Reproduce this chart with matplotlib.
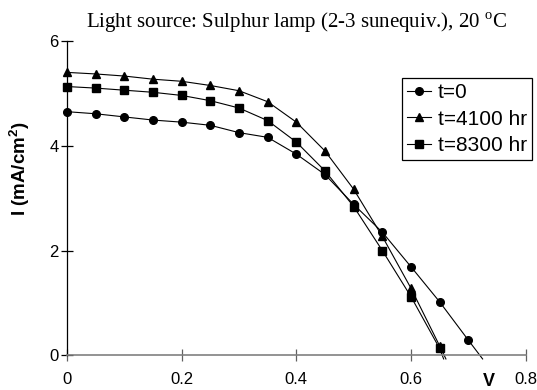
import matplotlib.pyplot as plt

plt.rcParams['font.family'] = ['Liberation Sans', 'DejaVu Sans']
plt.rcParams['mathtext.fontset'] = 'custom'
plt.rcParams['mathtext.rm'] = 'Liberation Serif'
plt.rcParams['mathtext.bf'] = 'Liberation Sans:bold'

# I-V curves, voltage in V, current density in mA/cm2
voltage = [0.0, 0.05, 0.1, 0.15, 0.2, 0.25, 0.3, 0.35, 0.4, 0.45, 0.5, 0.55, 0.6, 0.65, 0.7]
i_t0 = [4.65, 4.61, 4.55, 4.49, 4.45, 4.39, 4.25, 4.16, 3.84, 3.45, 2.88, 2.35, 1.69, 1.02, 0.29]
i_t4100 = [5.40, 5.37, 5.33, 5.27, 5.23, 5.15, 5.05, 4.84, 4.45, 3.90, 3.17, 2.27, 1.28, 0.18]
i_t8300 = [5.13, 5.10, 5.06, 5.02, 4.96, 4.86, 4.72, 4.48, 4.07, 3.52, 2.84, 2.00, 1.12, 0.13]
# where each curve runs out just under the axis (no marker drawn)
end_v = [0.725, 0.661, 0.657]
end_i = [-0.07, -0.07, -0.07]

labels = ['t=0', 't=4100 hr', 't=8300 hr']
markers = ['o', '^', 's']
sizes = [5.5, 6, 5.5]

fig = plt.figure(figsize=(5.37, 3.9), dpi=100)
ax = fig.add_axes([0.1248, 0.089, 0.854, 0.806])

for k, ys in enumerate([i_t0, i_t4100, i_t8300]):
    xs = voltage[:len(ys)] + [end_v[k]]
    yy = ys + [end_i[k]]
    ax.plot(xs, yy, color='black', lw=0.8, marker=markers[k], ms=sizes[k],
            markevery=list(range(len(ys))), label=labels[k], clip_on=False)

ax.set_xlim(0, 0.8)
ax.set_ylim(0, 6)
ax.set_xticks([0, 0.2, 0.4, 0.6, 0.8])
ax.set_xticklabels(['0', '0.2', '0.4', '0.6', '0.8'])
ax.set_yticks([0, 2, 4, 6])

for s in ['top', 'right']:
    ax.spines[s].set_visible(False)
ax.spines['left'].set_color('black')
ax.spines['bottom'].set_color('#808080')
ax.spines['left'].set_linewidth(0.9)
ax.spines['bottom'].set_linewidth(1.2)
ax.tick_params(axis='both', direction='inout', length=8, width=0.9, labelsize=12)
ax.tick_params(axis='x', color='#606060', pad=8)
ax.tick_params(axis='y', pad=2)

ax.set_ylabel('I (mA/cm$^{\\bf 2}$)', fontsize=13.5, fontweight='bold')
ax.yaxis.set_label_coords(-0.077, 0.593)
ax.text(0.919, -0.082, 'V', transform=ax.transAxes, fontsize=13, fontweight='bold',
        ha='center', va='center')

ax.set_title('Light source: Sulphur lamp (2-3 sunequiv.), 20 $^{\\rm o}$C',
             family='Liberation Serif', fontsize=15, pad=9)

leg = ax.legend(loc='upper left', bbox_to_anchor=(0.731, 0.882), fontsize=15,
                handlelength=1.15, handletextpad=0.3, borderpad=0.25,
                labelspacing=0.35, fancybox=False, framealpha=1, borderaxespad=0)
leg.get_frame().set_edgecolor('black')
leg.get_frame().set_linewidth(0.9)

fig.savefig('out.png', dpi=100)
